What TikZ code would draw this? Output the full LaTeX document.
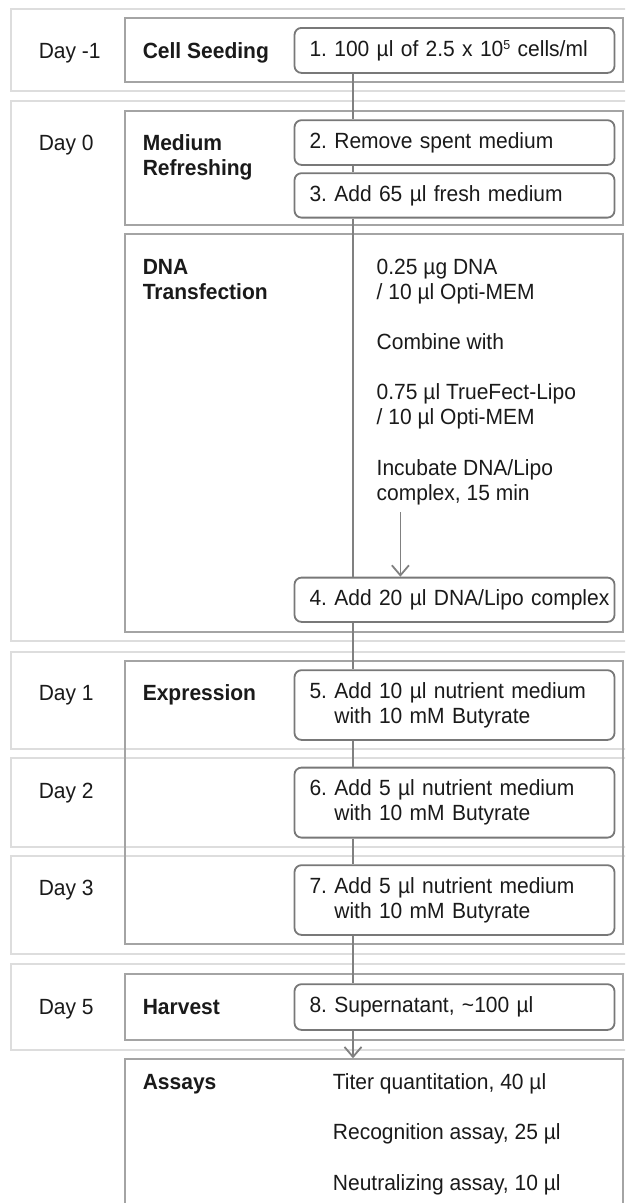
\documentclass[tikz,border=0pt]{standalone}
\usepackage{fontspec}
\setmainfont{Liberation Sans}[FakeStretch=0.955]
\usetikzlibrary{arrows.meta}
\definecolor{bandc}{HTML}{DDDDDD}
\definecolor{framec}{HTML}{A4A4A4}
\definecolor{stepc}{HTML}{787878}
\definecolor{linec}{HTML}{808080}
\definecolor{txtc}{HTML}{1A1A1A}
\newcommand{\supfive}{\raisebox{6.3pt}{\fontsize{13}{13}\selectfont 5}}
\frenchspacing
\begin{document}
\begin{tikzpicture}[x=1pt,y=-1pt,
  band/.style={draw=bandc,line width=2pt,anchor=north west,minimum width=630pt,inner sep=0pt},
  frame/.style={draw=framec,line width=2pt,anchor=north west,minimum width=498.5pt,inner sep=0pt},
  stepbox/.style={draw=stepc,line width=1.8pt,fill=white,rounded corners=7pt,anchor=north west,
    minimum width=320pt,text width=290pt,inner xsep=15pt,inner ysep=0pt,align=left,
    font=\fontsize{22}{25}\selectfont\frenchspacing,text=txtc},
  lbl/.style={anchor=base west,inner sep=0pt,font=\fontsize{22}{25}\selectfont\frenchspacing,text=txtc},
  hdr/.style={anchor=base west,inner sep=0pt,font=\fontsize{22}{25}\selectfont\bfseries,text=txtc},
  link/.style={draw=linec,line width=1.8pt},
  arr/.style={link,-{Straight Barb[length=10pt,width=17pt]}}
]
\clip (0,0) rectangle (625,1203);
\useasboundingbox (0,0) rectangle (625,1203);
\fill[white] (0,0) rectangle (625,1203);

% day bands
\node[band,minimum height=82.5pt] (bm1) at (10,7.5) {};
\node[band,minimum height=540pt] (bd0) at (10,100) {};
\node[band,minimum height=97.6pt] (bd1) at (10,650.7) {};
\node[band,minimum height=88.4pt] (bd2) at (10,757.3) {};
\node[band,minimum height=97.7pt] (bd3) at (10,855) {};
\node[band,minimum height=86.3pt] (bd5) at (10,962.7) {};

% stage frames
\node[frame,minimum height=64pt] (fseed) at (123.5,17) {};
\node[frame,minimum height=114pt] (fmed) at (123.5,110) {};
\node[frame,minimum height=398pt] (fdna) at (123.5,233) {};
\node[frame,minimum height=283.3pt] (fexp) at (123.5,660) {};
\node[frame,minimum height=65.7pt] (fharv) at (123.5,973.3) {};
\node[frame,minimum height=170pt] (fassay) at (123.5,1058.3) {};

% steps
\node[stepbox,minimum height=45pt] (b1) at (293.6,27) {1. 100 µl of 2.5 x 10\supfive{} cells/ml};
\node[stepbox,minimum height=44.7pt] (b2) at (293.6,119.3) {2. Remove spent medium};
\node[stepbox,minimum height=44.4pt] (b3) at (293.6,172.3) {3. Add 65 µl fresh medium};
\node[stepbox,minimum height=44.3pt] (b4) at (293.6,576.7) {\mbox{4. Add 20 µl DNA/Lipo complex}};
\node[stepbox,minimum height=69.7pt] (b5) at (293.6,669.3) {5. Add 10 µl nutrient medium\\\hphantom{5. }with 10 mM Butyrate};
\node[stepbox,minimum height=70pt] (b6) at (293.6,766.7) {6. Add 5 µl nutrient medium\\\hphantom{6. }with 10 mM Butyrate};
\node[stepbox,minimum height=69.7pt] (b7) at (293.6,864.3) {7. Add 5 µl nutrient medium\\\hphantom{7. }with 10 mM Butyrate};
\node[stepbox,minimum height=45.7pt] (b8) at (293.6,983.3) {8. Supernatant, \textasciitilde 100 µl};

% day labels
\node[lbl] (dm1) at (38.6,58) {Day -1};
\node[lbl] (d0) at (38.6,150.5) {Day 0};
\node[lbl] (d1) at (38.6,700.3) {Day 1};
\node[lbl] (d2) at (38.6,798) {Day 2};
\node[lbl] (d3) at (38.6,895.3) {Day 3};
\node[lbl] (d5) at (38.6,1014) {Day 5};

% stage headers
\node[hdr] (hseed) at (142.6,58) {Cell Seeding};
\node[hdr] (hmed1) at (142.6,150.5) {Medium};
\node[hdr] (hmed2) at (142.6,175.5) {Refreshing};
\node[hdr] (hdna1) at (142.6,274.7) {DNA};
\node[hdr] (hdna2) at (142.6,299.7) {Transfection};
\node[hdr] (hexp) at (142.6,700.3) {Expression};
\node[hdr] (hharv) at (142.6,1014) {Harvest};
\node[hdr] (hassay) at (142.6,1089.7) {Assays};

% transfection notes
\node[lbl] (r1) at (376.5,274.7) {0.25 µg DNA};
\node[lbl] (r2) at (376.5,299.7) {/ 10 µl Opti-MEM};
\node[lbl] (r3) at (376.5,349.7) {Combine with};
\node[lbl] (r4) at (376.5,399.7) {0.75 µl TrueFect-Lipo};
\node[lbl] (r5) at (376.5,424.7) {/ 10 µl Opti-MEM};
\node[lbl] (r6) at (376.5,475.3) {Incubate DNA/Lipo};
\node[lbl] (r7) at (376.5,500.3) {complex, 15 min};

% assays
\node[lbl] (a1) at (332.7,1089.7) {Titer quantitation, 40 µl};
\node[lbl] (a2) at (332.7,1139.7) {Recognition assay, 25 µl};
\node[lbl] (a3) at (332.7,1190.3) {Neutralizing assay, 10 µl};

% connectors
\coordinate (sp) at (353,0);
\coordinate (ax) at (400.4,0);
\draw[link] (b1.south -| sp) -- (b2.north -| sp);
\draw[link] (b2.south -| sp) -- (b3.north -| sp);
\draw[link] (b3.south -| sp) -- (b4.north -| sp);
\draw[link] (b4.south -| sp) -- (b5.north -| sp);
\draw[link] (b5.south -| sp) -- (b6.north -| sp);
\draw[link] (b6.south -| sp) -- (b7.north -| sp);
\draw[link] (b7.south -| sp) -- (b8.north -| sp);
\draw[arr] (b8.south -| sp) -- (fassay.north -| sp);
\draw[arr,shorten <=7pt] (r7.south -| ax) -- (b4.north -| ax);
\end{tikzpicture}
\end{document}
